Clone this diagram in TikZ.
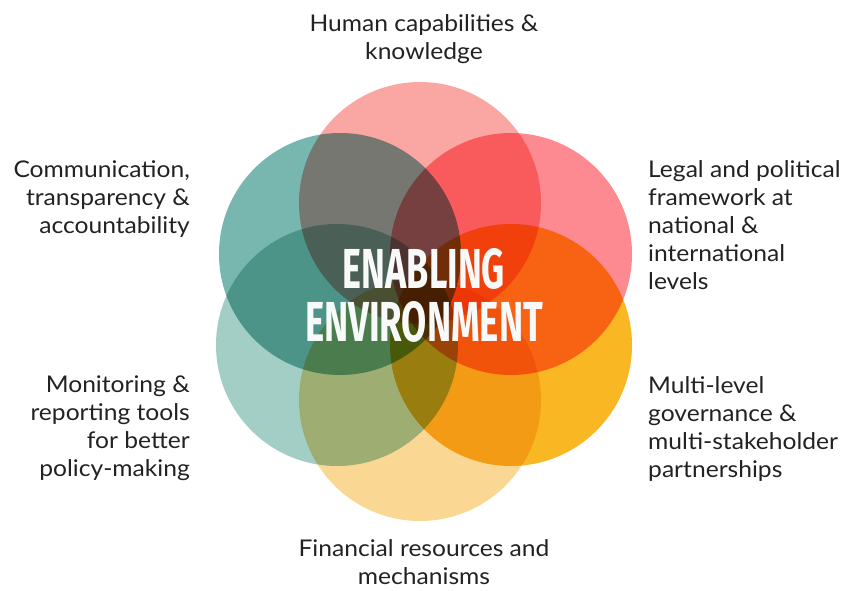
\documentclass[tikz,border=0pt]{standalone}
\usepackage{fontspec}
\usepackage{graphicx}
\setmainfont[FakeStretch=1.07]{Lato}
\newfontfamily\titlefont{Fira Sans}
\definecolor{pinktop}{HTML}{FAA7A3}
\definecolor{pinkright}{HTML}{FE8A91}
\definecolor{tealtop}{HTML}{78B6B0}
\definecolor{teallow}{HTML}{A2CEC6}
\definecolor{yellowlow}{HTML}{FAD894}
\definecolor{orangelow}{HTML}{F8B723}
\definecolor{labeltext}{HTML}{222222}
\definecolor{titletext}{HTML}{F8F9F9}
\begin{document}
\begin{tikzpicture}[x=1pt,y=-1pt,
    disc/.style={circle, minimum size=242pt, inner sep=0pt, draw=none},
    label/.style={inner sep=0pt, font=\fontsize{23}{28}\selectfont, text=labeltext},
    title/.style={inner sep=0pt, text=titletext, font=\titlefont\bfseries}]
  \useasboundingbox (0,0) rectangle (851,591);
  \begin{scope}[blend group=multiply]
    \node[disc, fill=pinktop] (human) at (420,203) {};
    \node[disc, fill=pinkright] (legal) at (511,254) {};
    \node[disc, fill=orangelow] (governance) at (511,345) {};
    \node[disc, fill=yellowlow] (finance) at (420,400) {};
    \node[disc, fill=teallow] (monitoring) at (337,345) {};
    \node[disc, fill=tealtop] (communication) at (340,254) {};
  \end{scope}
  \node[title] (enabling) at (424,269) {\resizebox{162pt}{40pt}{ENABLING}};
  \node[title] (environment) at (424,322) {\resizebox{238pt}{40pt}{ENVIRONMENT}};
  % labels round the circles
  \node[label, anchor=north, align=center] (humanlbl) at (424,14) {Human capabilities \&\\knowledge};
  \node[label, anchor=north east, align=right] (commlbl) at (190,160) {Communication,\\transparency \&\\accountability};
  \node[label, anchor=north west, align=left] (legallbl) at (648,160) {Legal and political\\framework at\\national \&\\international\\levels};
  \node[label, anchor=north east, align=right] (monlbl) at (190,376) {Monitoring \&\\reporting tools\\for better\\policy-making};
  \node[label, anchor=north west, align=left] (govlbl) at (648,376) {Multi-level\\governance \&\\multi-stakeholder\\partnerships};
  \node[label, anchor=north, align=center] (finlbl) at (424,539) {Financial resources and\\mechanisms};
\end{tikzpicture}
\end{document}
